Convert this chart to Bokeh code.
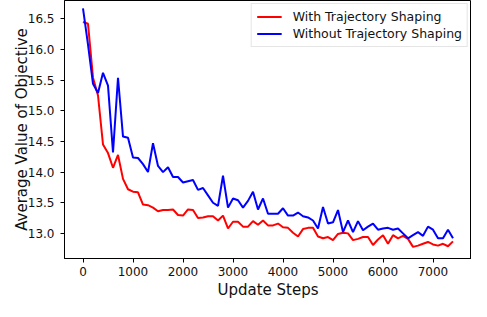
from bokeh.plotting import figure
from bokeh.models import FixedTicker, Range1d, NumeralTickFormatter
from bokeh.embed import file_html
from bokeh.resources import INLINE

# ---- data ----
steps = list(range(0, 7500, 100))
with_shaping = [
    16.45, 16.42, 15.54, 15.25, 14.45, 14.31, 14.07, 14.28, 13.89, 13.72,
    13.68, 13.67, 13.47, 13.46, 13.42, 13.36, 13.38, 13.38, 13.39, 13.30,
    13.29, 13.39, 13.38, 13.25, 13.26, 13.28, 13.28, 13.21, 13.29, 13.08,
    13.19, 13.19, 13.11, 13.11, 13.20, 13.14, 13.21, 13.13, 13.13, 13.16,
    13.10, 13.09, 13.01, 12.95, 13.07, 13.09, 13.09, 12.95, 12.92, 12.94,
    12.89, 12.99, 13.01, 13.00, 12.89, 12.91, 12.94, 12.94, 12.81, 12.90,
    12.97, 12.83, 12.97, 12.92, 12.96, 12.91, 12.78, 12.80, 12.83, 12.86,
    12.82, 12.80, 12.83, 12.79, 12.87,
]
without_shaping = [
    16.67, 16.08, 15.44, 15.29, 15.62, 15.41, 14.32, 15.54, 14.58, 14.56,
    14.24, 14.23, 14.13, 14.00, 14.47, 14.10, 14.00, 14.08, 13.92, 13.92,
    13.83, 13.85, 13.87, 13.71, 13.74, 13.62, 13.50, 13.45, 13.94, 13.42,
    13.57, 13.54, 13.42, 13.53, 13.68, 13.39, 13.57, 13.32, 13.32, 13.32,
    13.41, 13.29, 13.29, 13.34, 13.28, 13.26, 13.21, 13.08, 13.43, 13.16,
    13.18, 13.38, 13.02, 13.21, 13.02, 13.20, 13.05, 13.11, 13.16, 13.06,
    13.08, 13.09, 13.06, 13.08, 13.00, 12.92, 12.97, 13.02, 12.96, 13.11,
    13.06, 12.92, 12.92, 13.06, 12.92,
]
x_ticks = [0, 1000, 2000, 3000, 4000, 5000, 6000, 7000]
y_ticks = [13.0, 13.5, 14.0, 14.5, 15.0, 15.5, 16.0, 16.5]
label_with = "With Trajectory Shaping"
label_without = "Without Trajectory Shaping"

FONT = "DejaVu Sans"

p = figure(width=471, height=301, output_backend="svg", toolbar_location=None,
           x_range=Range1d(-370, 7770), y_range=Range1d(12.59, 16.80),
           min_border_left=64, min_border_right=0, min_border_top=0,
           min_border_bottom=0)

p.line(steps, with_shaping, line_color="#ff0000", line_width=2, legend_label=label_with)
p.line(steps, without_shaping, line_color="#0000ff", line_width=2, legend_label=label_without)

p.xgrid.visible = False
p.ygrid.visible = False
p.outline_line_color = "black"
p.outline_line_alpha = 1
p.outline_line_width = 1
p.background_fill_color = "white"
p.border_fill_color = "white"

p.xaxis.ticker = FixedTicker(ticks=x_ticks)
p.yaxis.ticker = FixedTicker(ticks=y_ticks)
p.yaxis.formatter = NumeralTickFormatter(format="0.0")
p.xaxis.axis_label = "Update Steps"
p.yaxis.axis_label = "Average Value of Objective"

for ax in (p.xaxis[0], p.yaxis[0]):
    ax.major_tick_in = 0
    ax.major_tick_out = 4
    ax.minor_tick_in = 0
    ax.minor_tick_out = 0
    ax.axis_line_color = "black"
    ax.major_tick_line_color = "black"
    ax.major_label_text_font = FONT
    ax.major_label_text_font_size = "12px"
    ax.major_label_text_color = "#111111"
    ax.major_label_text_line_height = 1.0
    ax.axis_label_text_font = FONT
    ax.axis_label_text_font_size = "15px"
    ax.axis_label_text_font_style = "normal"
    ax.axis_label_text_color = "#111111"
    ax.axis_label_text_line_height = 1.0

p.xaxis[0].major_label_standoff = 4
p.xaxis[0].axis_label_standoff = 2
p.yaxis[0].major_label_standoff = 6
p.yaxis[0].axis_label_standoff = -6

lg = p.legend[0]
lg.location = "top_right"
lg.margin = 3
lg.padding = 5
lg.spacing = 2
lg.glyph_width = 25
lg.glyph_height = 15
lg.label_height = 15
lg.label_standoff = 11
lg.label_text_font = FONT
lg.label_text_font_size = "12.5px"
lg.label_text_color = "#111111"
lg.border_line_color = "#cccccc"
lg.border_line_width = 1
lg.background_fill_alpha = 0.8

open("out.html", "w").write(file_html(p, INLINE))
